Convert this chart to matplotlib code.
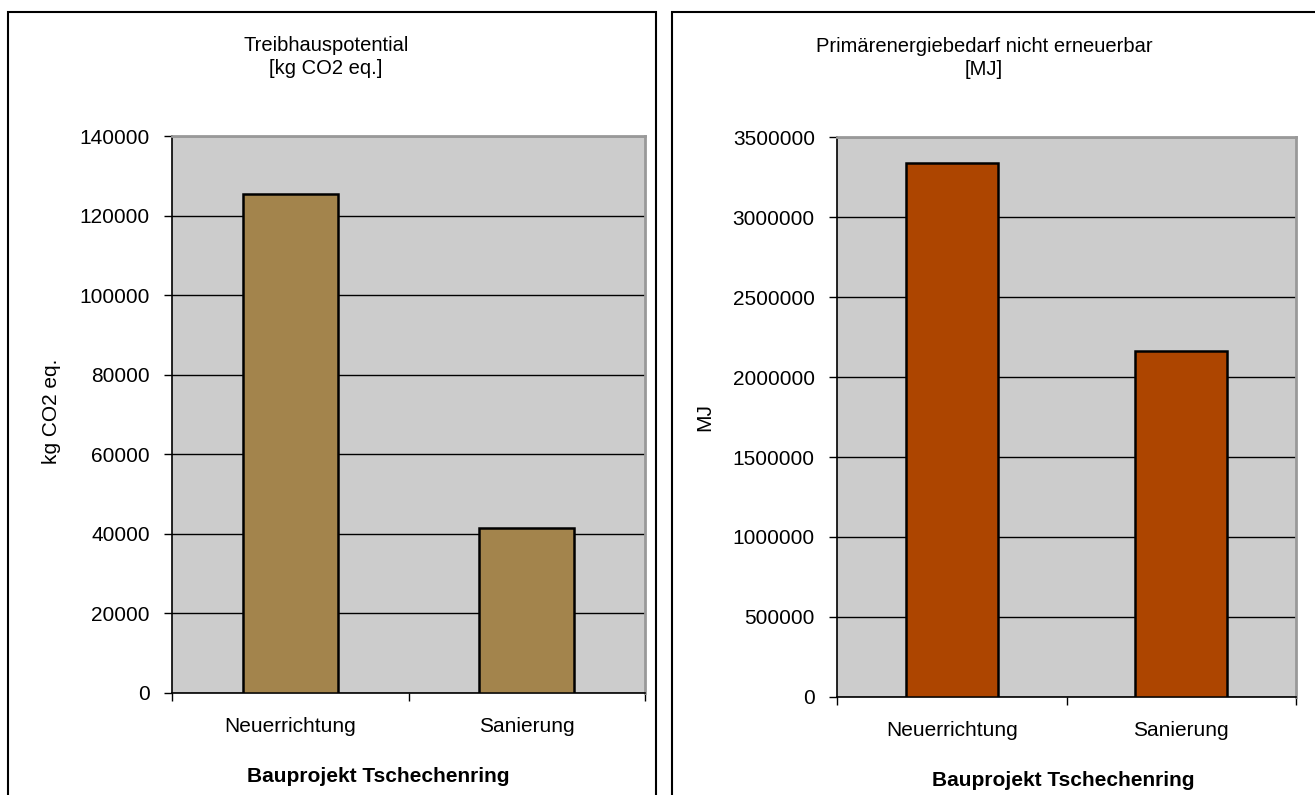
import matplotlib
matplotlib.use("Agg")
import matplotlib.pyplot as plt
from matplotlib.patches import Rectangle

plt.rcParams.update({"font.family": "Liberation Sans", "font.size": 15})

# Daten
kategorien = ["Neuerrichtung", "Sanierung"]
gwp_werte = [125500, 41400]            # Treibhauspotential [kg CO2 eq.]
pe_werte = [3335000, 2164000]          # Primärenergiebedarf n. e. [MJ]
gwp_ticks = [0, 20000, 40000, 60000, 80000, 100000, 120000, 140000]
pe_ticks = [0, 500000, 1000000, 1500000, 2000000, 2500000, 3000000, 3500000]

W, H = 1315, 795
fig = plt.figure(figsize=(W / 100, H / 100), dpi=100)


def px_box(x0, y0, x1, y1):
    """Pixelkoordinaten (oben links) -> Figure-Anteile [l, b, w, h]."""
    return [x0 / W, 1 - y1 / H, (x1 - x0) / W, (y1 - y0) / H]


def rahmen(x0, y0, x1, y1):
    l, b, w, h = px_box(x0, y0, x1, y1)
    fig.add_artist(Rectangle((l, b), w, h, transform=fig.transFigure,
                             fill=False, edgecolor="black", linewidth=1.5,
                             clip_on=False))


def balken(box, werte, ticks, farbe, ylabel, titel, titel_xy, xlabel_xy, ylabel_xy):
    ax = fig.add_axes(px_box(*box))
    ax.set_facecolor("#CCCCCC")
    x = range(len(werte))
    ax.bar(x, werte, width=0.4, color=farbe, edgecolor="black",
           linewidth=1.8, zorder=3)
    ax.set_xlim(-0.5, len(werte) - 0.5)
    ax.set_ylim(ticks[0], ticks[-1])
    ax.set_yticks(ticks)
    ax.set_yticklabels([str(t) for t in ticks])
    ax.yaxis.grid(True, color="black", linewidth=1.0, zorder=1)
    ax.set_axisbelow(True)

    # Kategoriegrenzen als Striche, Beschriftung mittig
    ax.set_xticks([i - 0.5 for i in range(len(werte) + 1)])
    ax.set_xticklabels([])
    ax.set_xticks(list(x), minor=True)
    ax.set_xticklabels(kategorien, minor=True)
    ax.tick_params(axis="x", which="major", direction="out", length=6,
                   width=1, color="black")
    ax.tick_params(axis="x", which="minor", length=0, pad=17)
    ax.tick_params(axis="y", direction="out", length=6, width=1, pad=10)

    for s in ("left", "bottom"):
        ax.spines[s].set_color("black")
        ax.spines[s].set_linewidth(1.2)
    for s in ("top", "right"):
        ax.spines[s].set_color("#999999")
        ax.spines[s].set_linewidth(2.0)

    fig.text(titel_xy[0] / W, 1 - titel_xy[1] / H, titel, ha="center",
             va="center", multialignment="center", linespacing=1.3,
             fontsize=14.5)
    fig.text(xlabel_xy[0] / W, 1 - xlabel_xy[1] / H, "Bauprojekt Tschechenring",
             ha="center", va="center", fontweight="bold", fontsize=15)
    fig.text(ylabel_xy[0] / W, 1 - ylabel_xy[1] / H, ylabel, ha="center",
             va="center", rotation=90, fontsize=15)
    return ax


rahmen(8, 12, 656, 820)
rahmen(672, 12, 1330, 820)

balken((172, 136, 645, 693), gwp_werte, gwp_ticks, "#A3844C", "kg CO2 eq.",
       "Treibhauspotential\n[kg CO2 eq.]", (326, 57), (378, 776), (52, 411))
balken((837, 137, 1296, 697), pe_werte, pe_ticks, "#AD4500", "MJ",
       "Primärenergiebedarf nicht erneuerbar\n[MJ]", (984, 58), (1063, 780), (705, 417))

fig.savefig("out.png", dpi=100)
